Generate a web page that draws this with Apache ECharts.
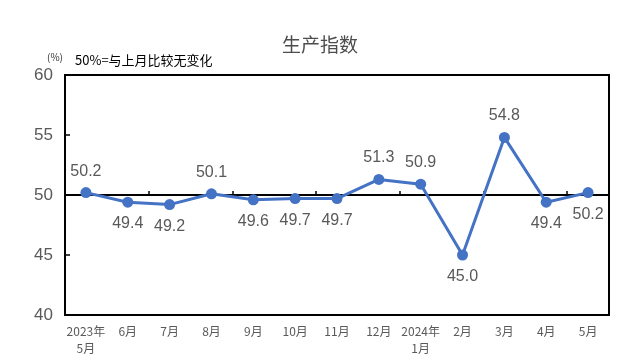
<!DOCTYPE html>
<html><head><meta charset="utf-8">
<script src="https://cdn.jsdelivr.net/npm/echarts@6/dist/echarts.min.js"></script>
<style>html,body{margin:0;padding:0;background:#fff}#c{width:640px;height:364px}</style>
</head><body><div id="c"></div>
<script>
const categories = ['2023年\n5月','6月','7月','8月','9月','10月','11月','12月','2024年\n1月','2月','3月','4月','5月'];
const values = [50.2,49.4,49.2,50.1,49.6,49.7,49.7,51.3,50.9,45.0,54.8,49.4,50.2];
const labelPos = ['top','bottom','bottom','top','bottom','bottom','bottom','top','top','bottom','top','bottom','bottom'];
const yTicks = [40,45,50,55,60];

const chart = echarts.init(document.getElementById('c'));
chart.setOption({
  animation:false,
  title:{text:'生产指数',left:'center',top:30,textStyle:{fontSize:19,fontWeight:'normal',color:'#4d4d4d',fontFamily:'Noto Sans CJK SC'}},
  graphic:[
    {type:'text',left:47,top:52,style:{text:'(%)',fontSize:10,fill:'#333',fontFamily:'Noto Sans CJK SC'}},
    {type:'text',left:75,top:54,style:{text:'50%=与上月比较无变化',fontSize:13,fill:'#000',fontFamily:'Noto Sans CJK SC'}}
  ],
  grid:{left:65,right:31,top:75,bottom:49,show:true,borderColor:'#000',borderWidth:2,backgroundColor:'transparent'},
  xAxis:[
    {type:'category',data:categories,boundaryGap:true,
     axisLine:{show:false},axisTick:{show:false},
     axisLabel:{color:'#595959',fontSize:12,lineHeight:17,margin:8,fontFamily:'Noto Sans CJK SC',interval:0}},
    {type:'category',data:categories,boundaryGap:true,position:'bottom',offset:-120,
     axisLine:{show:true,lineStyle:{color:'#000',width:2}},
     axisTick:{show:true,inside:true,length:4,lineStyle:{color:'#000',width:1.5}},
     axisLabel:{show:false}}
  ],
  yAxis:{type:'value',min:40,max:60,interval:5,
    axisLine:{show:false},
    axisTick:{show:true,inside:true,length:5,lineStyle:{color:'#000',width:1.5}},
    splitLine:{show:false},
    axisLabel:{color:'#595959',fontSize:17,margin:12,fontFamily:'Liberation Sans'}},
  series:[{
    type:'line',xAxisIndex:0,
    data:values.map((v,i)=>({value:v,label:{position:labelPos[i]}})),
    symbol:'circle',symbolSize:11,
    lineStyle:{color:'#4472C4',width:3},
    itemStyle:{color:'#4472C4'},
    label:{show:true,formatter:p=>p.value.toFixed(1),color:'#595959',fontSize:16,distance:8,fontFamily:'Liberation Sans'}
  }]
});
</script></body></html>
